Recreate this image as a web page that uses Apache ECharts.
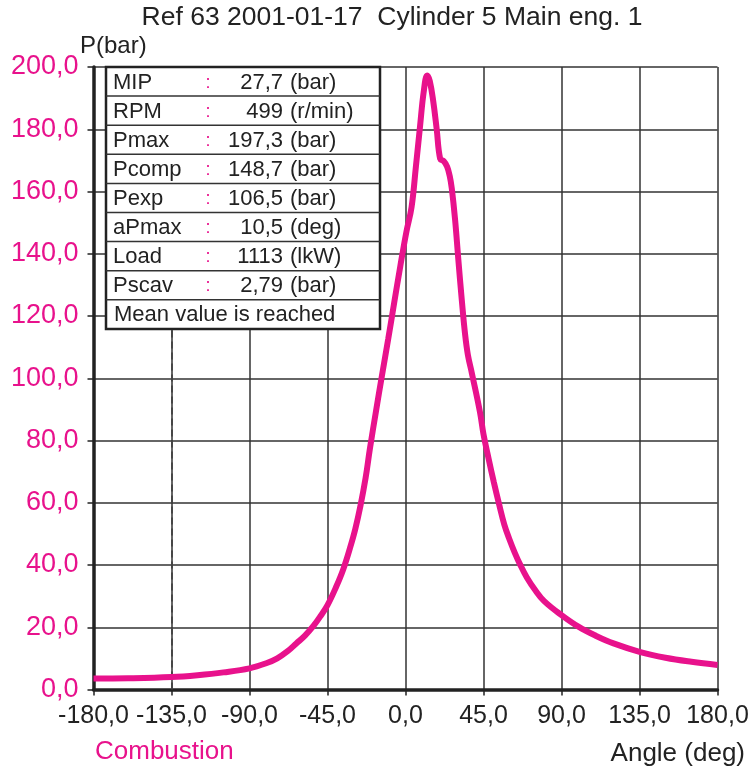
<!DOCTYPE html>
<html>
<head>
<meta charset="utf-8">
<script src="https://cdn.jsdelivr.net/npm/echarts@6/dist/echarts.min.js"></script>
<style>
  html, body { margin: 0; padding: 0; background: #fff; }
  #chart { width: 753px; height: 767px; }
</style>
</head>
<body>
<div id="chart"></div>
<script>
// 曲线数据 (角度, 压力)
const angles = [-180, -160, -135, -120, -105, -90, -80, -74, -68, -63, -58, -53, -49, -45, -40, -36, -32, -29,
  -26, -23, -20.5, -17, -13.7, -10, -6.6, -3, 0.5, 3.5, 6, 8.4, 10.5, 12.5, 14, 16, 18, 20, 22, 24, 25.5, 26.7,
  28.6, 30.5, 32.5, 34.4, 36, 38.3, 43, 45, 48, 51, 54, 57, 60, 63, 66, 70, 75, 80, 90, 100, 110, 120, 135, 150,
  165, 180];
const pressures = [3.5, 3.6, 4.0, 4.6, 5.5, 6.8, 8.5, 10.0, 12.3, 14.8, 17.3, 20.5, 23.6, 27.1, 33, 38.5, 45.5, 51.5,
  59, 68, 77.5, 89.5, 100.5, 112.5, 124, 136, 147, 155, 168, 181, 192, 197.3, 195.5, 189, 180, 170.5, 169.8, 168,
  165, 161, 151, 138, 125, 114, 107.5, 101.6, 89, 82, 74, 66.5, 59.5, 53, 48.2, 44, 40.3, 36, 31.8, 28.4, 23.9, 20.1,
  17.2, 14.8, 12.1, 10.2, 8.9, 7.9];

// 信息表
const infoLabels = ['MIP', 'RPM', 'Pmax', 'Pcomp', 'Pexp', 'aPmax', 'Load', 'Pscav'];
const infoValues = ['27,7', '499', '197,3', '148,7', '106,5', '10,5', '1113', '2,79'];
const infoUnits = ['(bar)', '(r/min)', '(bar)', '(bar)', '(bar)', '(deg)', '(lkW)', '(bar)'];
const infoFooter = 'Mean value is reached';

const titleText = 'Ref 63 2001-01-17  Cylinder 5 Main eng. 1';
const combustionMarker = -135;

const PINK = '#e8128c';
const FONT = '"Liberation Sans", Arial, sans-serif';

function fmt(v) {
    return v.toFixed(1).replace('.', ',');
}

// 信息框
function buildInfoBox() {
    const left = 106, right = 380, top = 67, rowH = 29.1;
    const children = [];
    const rows = infoLabels.length + 1;
    children.push({
        type: 'rect', z: 100,
        shape: { x: left, y: top, width: right - left, height: rowH * rows },
        style: { fill: '#fff', stroke: '#222', lineWidth: 2.5 }
    });
    for (let i = 1; i < rows; i++) {
        children.push({
            type: 'line', z: 101,
            shape: { x1: left, y1: top + i * rowH, x2: right, y2: top + i * rowH },
            style: { stroke: '#333', lineWidth: 1.5 }
        });
    }
    const f = '22px ' + FONT;
    infoLabels.forEach(function(lab, i) {
        const cy = top + i * rowH + rowH / 2 + 1;
        children.push({ type: 'text', z: 102, x: 113, y: cy,
            style: { text: lab, font: f, fill: '#222', verticalAlign: 'middle' } });
        children.push({ type: 'text', z: 102, x: 208, y: cy,
            style: { text: ':', font: '18px ' + FONT, fill: PINK, align: 'center', verticalAlign: 'middle' } });
        children.push({ type: 'text', z: 102, x: 283, y: cy,
            style: { text: infoValues[i], font: f, fill: '#222', align: 'right', verticalAlign: 'middle' } });
        children.push({ type: 'text', z: 102, x: 290, y: cy,
            style: { text: infoUnits[i], font: f, fill: '#222', verticalAlign: 'middle' } });
    });
    children.push({ type: 'text', z: 102, x: 114, y: top + 8 * rowH + rowH / 2 + 1,
        style: { text: infoFooter, font: f, fill: '#222', verticalAlign: 'middle' } });
    return { type: 'group', children: children };
}

const chart = echarts.init(document.getElementById('chart'));
chart.setOption({
    animation: false,
    backgroundColor: '#fff',
    grid: { left: 93.5, right: 35.5, top: 67, bottom: 77.5 },
    xAxis: {
        type: 'value',
        min: -180,
        max: 180,
        interval: 45,
        axisLine: { onZero: false, lineStyle: { color: '#222', width: 3.5 } },
        axisTick: { show: true, length: 6, lineStyle: { color: '#222', width: 1.5 } },
        axisLabel: {
            margin: 14,
            formatter: fmt,
            fontFamily: FONT,
            fontSize: 25,
            color: '#222'
        },
        splitLine: { show: true, lineStyle: { color: '#333', width: 1.5 } }
    },
    yAxis: {
        type: 'value',
        min: 0,
        max: 200,
        interval: 20,
        axisLine: { show: true, onZero: false, lineStyle: { color: '#222', width: 3.5 } },
        axisTick: { show: true, length: 6, lineStyle: { color: '#222', width: 1.5 } },
        axisLabel: {
            margin: 15,
            formatter: fmt,
            fontFamily: FONT,
            fontSize: 27,
            color: PINK
        },
        splitLine: { show: true, lineStyle: { color: '#333', width: 1.5 } }
    },
    series: [{
        type: 'line',
        data: angles.map(function(a, i) { return [a, pressures[i]]; }),
        smooth: 0.4,
        symbol: 'none',
        lineStyle: { color: PINK, width: 6 },
        z: 5,
        markLine: {
            silent: true,
            symbol: 'none',
            label: { show: false },
            lineStyle: { color: '#444', type: [7, 4], width: 1.8 },
            data: [{ xAxis: combustionMarker }]
        }
    }],
    graphic: [
        buildInfoBox(),
        { type: 'text', x: 392, y: 18,
          style: { text: titleText, font: '26.5px ' + FONT, fill: '#222', align: 'center', verticalAlign: 'middle' } },
        { type: 'text', x: 80, y: 46,
          style: { text: 'P(bar)', font: '24px ' + FONT, fill: '#222', verticalAlign: 'middle' } },
        { type: 'text', x: 95, y: 752,
          style: { text: 'Combustion', font: '26px ' + FONT, fill: PINK, verticalAlign: 'middle' } },
        { type: 'text', x: 745, y: 754,
          style: { text: 'Angle (deg)', font: '26px ' + FONT, fill: '#222', align: 'right', verticalAlign: 'middle' } }
    ]
});
</script>
</body>
</html>
